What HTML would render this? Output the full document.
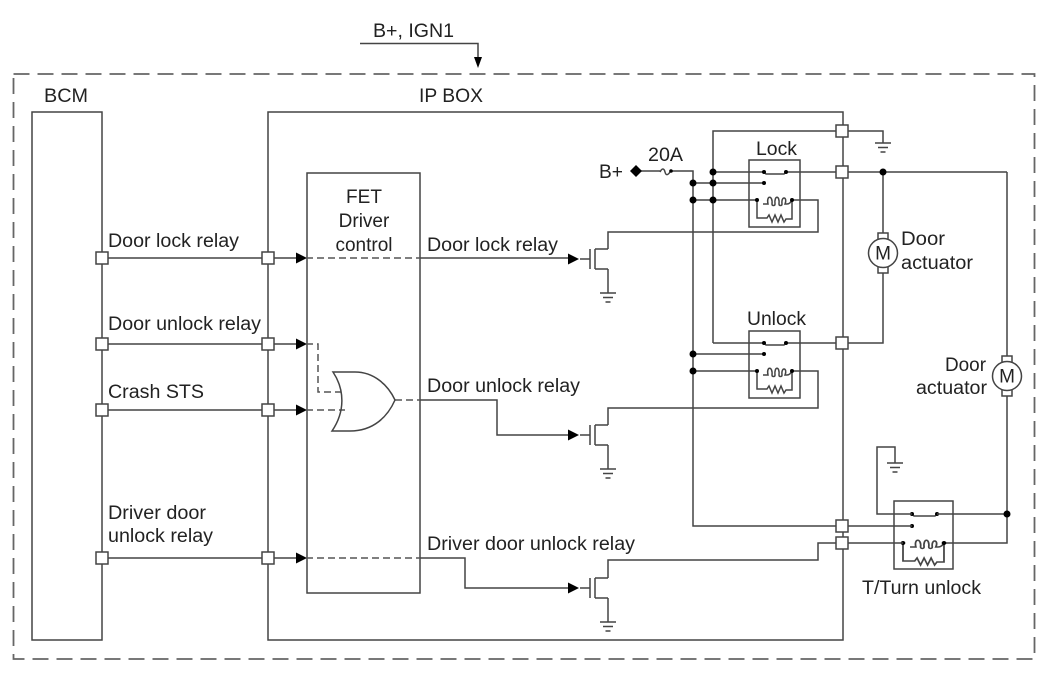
<!DOCTYPE html>
<html><head><meta charset="utf-8"><style>
html,body{margin:0;padding:0;background:#fff;width:1050px;height:676px;overflow:hidden}
svg{display:block;filter:blur(0.35px)}
text{font-family:"Liberation Sans",sans-serif;font-size:19px;fill:#222}
.l{fill:none;stroke:#444;stroke-width:1.5}
.d{fill:none;stroke:#555;stroke-width:1.5;stroke-dasharray:7 4}
.b{fill:#fff;stroke:#444;stroke-width:1.5}
.k{fill:#000;stroke:none}
</style></head><body>
<svg width="1050" height="676" viewBox="0 0 1050 676" xmlns="http://www.w3.org/2000/svg">
<defs>
<g id="arr"><path class="k" d="M0-5.5L11 0L0 5.5Z"/></g>
<g id="gnd"><path class="l" d="M-8 0H8M-5 4.500H5M-2.500 9H2.500"/></g>
<g id="fet"><path class="l" d="M-18 0H-8M-8-10V10M-3-10V10M-3-10H10M-3 10H10"/><path class="l" d="M10 10V34"/><use href="#gnd" x="10" y="34"/></g>
<g id="coil">
<path class="l" d="M0 40V58H10l2-3 3 7 3-7 3 7 3-7 3 7 2-3H35V40"/>
<path class="l" d="M6 44Q9 44 11 44c-2-9 5-9 4 0c0 2 3 2 3 0c-1-9 5-9 4 0c0 2 3 2 3 0c-1-9 6-7 3 0H30Q33 44 35 40"/>
<circle class="k" cx="0" cy="40" r="2"/><circle class="k" cx="35" cy="40" r="2"/>
</g>
<g id="relay">
<rect class="l" x="0" y="0" width="51" height="67"/>
<path class="l" d="M15 12L17 14H35L37 12"/>
<circle class="k" cx="15" cy="12" r="2"/><circle class="k" cx="37" cy="12" r="2"/>
<circle class="k" cx="15" cy="23" r="2"/>
<use href="#coil" x="8" y="0"/>
</g>
<g id="mot"><rect class="b" x="-5" y="-20" width="10" height="40"/><circle class="b" r="14.500"/><text x="0" y="6.500" text-anchor="middle" style="font-size:19px">M</text></g>
</defs>

<rect x="13.500" y="74" width="1021" height="585" fill="none" stroke="#666" stroke-width="1.800" stroke-dasharray="16 8"/>
<path class="l" d="M360 43.500H478V58"/><path class="k" d="M474 57H482L478 68Z"/>
<rect class="l" x="32" y="112" width="70" height="528"/>
<rect class="l" x="268" y="112" width="575" height="528"/>
<rect class="l" x="307" y="173" width="113" height="420"/>

<!-- inputs -->
<path class="l" d="M102 258H296M102 344H296M102 410H296M102 558H296"/>
<use href="#arr" x="296" y="258"/><use href="#arr" x="296" y="344"/><use href="#arr" x="296" y="410"/><use href="#arr" x="296" y="558"/>
<path class="d" d="M306 258H420M306 558H420M306 344H318V392H341M306 410H345M395 400H420"/>
<path class="l" d="M420 258H568M420 400H497V435H568M420 558H465V588H568"/>
<use href="#arr" x="568" y="259"/><use href="#arr" x="568" y="435"/><use href="#arr" x="568" y="588"/>

<!-- OR gate -->
<path d="M333 372H355C374 372 388 385 395 400C388 416 374 431 350 431H332C345 412 345 390 333 372Z" fill="none" stroke="#444" stroke-width="1.500"/>

<!-- FETs -->
<use href="#fet" x="598" y="259"/><use href="#fet" x="598" y="435"/><use href="#fet" x="598" y="588"/>
<path class="l" d="M608 249V232H818V200H792"/>
<path class="l" d="M608 425V408H818V371H792"/>
<path class="l" d="M608 578V560H818V543H842"/>

<!-- supply -->
<path class="l" d="M636 171H660M672 171H693V526H842"/>
<path class="l" d="M660 172c2-4 4-4 5 0s3 3 5 0" />
<circle class="k" cx="671" cy="171" r="1.800"/>
<path class="k" d="M636 165L642 171L636 177L630 171Z"/>
<path class="l" d="M713 343V131H883V143"/>
<use href="#gnd" x="883" y="143"/>
<path class="l" d="M713 172H764M786 172H1007M693 183H764M693 200H757M713 343H764M786 343H883V267M883 172V239M693 354H764M693 371H757"/>
<path class="l" d="M1007 172V356M1007 396V543H944"/>

<use href="#relay" x="749" y="160"/>
<use href="#relay" x="749" y="331"/>
<!-- T/Turn relay -->
<rect class="l" x="894" y="501" width="59" height="68"/>
<path class="l" d="M912 514L914 516H935L937 514"/>
<circle class="k" cx="912" cy="514" r="2"/><circle class="k" cx="937" cy="514" r="2"/>
<circle class="k" cx="912" cy="526" r="2"/>
<use href="#coil" x="0" y="0" transform="translate(903 503) scale(1.171 1)"/>
<path class="l" d="M912 514H877V447H895V463M842 526H912M842 543H903M937 514H1007"/>
<use href="#gnd" x="895" y="463"/>
<circle class="k" cx="883" cy="172" r="3.500"/><circle class="k" cx="1007" cy="514" r="3.500"/>
<g class="k"><circle cx="713" cy="172" r="3.500"/><circle cx="693" cy="183" r="3.500"/><circle cx="713" cy="183" r="3.500"/><circle cx="693" cy="200" r="3.500"/><circle cx="713" cy="200" r="3.500"/><circle cx="693" cy="354" r="3.500"/><circle cx="693" cy="371" r="3.500"/></g>

<use href="#mot" x="883" y="253"/>
<use href="#mot" x="1007" y="376"/>

<!-- connectors -->
<g class="b">
<rect x="96" y="252" width="12" height="12"/><rect x="96" y="338" width="12" height="12"/><rect x="96" y="404" width="12" height="12"/><rect x="96" y="552" width="12" height="12"/>
<rect x="262" y="252" width="12" height="12"/><rect x="262" y="338" width="12" height="12"/><rect x="262" y="404" width="12" height="12"/><rect x="262" y="552" width="12" height="12"/>
<rect x="836" y="125" width="12" height="12"/><rect x="836" y="166" width="12" height="12"/><rect x="836" y="337" width="12" height="12"/><rect x="836" y="520" width="12" height="12"/><rect x="836" y="537" width="12" height="12"/>
</g>

<!-- labels -->
<text x="373" y="37" textLength="81" lengthAdjust="spacingAndGlyphs">B+, IGN1</text>
<text x="44" y="102" textLength="44" lengthAdjust="spacingAndGlyphs">BCM</text>
<text x="419" y="102" textLength="64" lengthAdjust="spacingAndGlyphs">IP BOX</text>
<text x="108" y="247" textLength="131" lengthAdjust="spacingAndGlyphs">Door lock relay</text>
<text x="108" y="330" textLength="153" lengthAdjust="spacingAndGlyphs">Door unlock relay</text>
<text x="108" y="398" textLength="96" lengthAdjust="spacingAndGlyphs">Crash STS</text>
<text x="108" y="519" textLength="98" lengthAdjust="spacingAndGlyphs">Driver door</text>
<text x="108" y="542" textLength="105" lengthAdjust="spacingAndGlyphs">unlock relay</text>
<text x="364" y="203" text-anchor="middle">FET</text>
<text x="364" y="227" text-anchor="middle">Driver</text>
<text x="364" y="251" text-anchor="middle">control</text>
<text x="427" y="251" textLength="131" lengthAdjust="spacingAndGlyphs">Door lock relay</text>
<text x="427" y="392" textLength="153" lengthAdjust="spacingAndGlyphs">Door unlock relay</text>
<text x="427" y="550" textLength="208" lengthAdjust="spacingAndGlyphs">Driver door unlock relay</text>
<text x="599" y="178" textLength="24" lengthAdjust="spacingAndGlyphs">B+</text>
<text x="648" y="161" textLength="35" lengthAdjust="spacingAndGlyphs">20A</text>
<text x="756" y="155" textLength="41" lengthAdjust="spacingAndGlyphs">Lock</text>
<text x="747" y="325" textLength="59" lengthAdjust="spacingAndGlyphs">Unlock</text>
<text x="901" y="245" textLength="44" lengthAdjust="spacingAndGlyphs">Door</text>
<text x="901" y="269" textLength="72" lengthAdjust="spacingAndGlyphs">actuator</text>
<text x="945" y="371" textLength="41" lengthAdjust="spacingAndGlyphs">Door</text>
<text x="916" y="394" textLength="71" lengthAdjust="spacingAndGlyphs">actuator</text>
<text x="862" y="594" textLength="119" lengthAdjust="spacingAndGlyphs">T/Turn unlock</text>
</svg>
</body></html>
